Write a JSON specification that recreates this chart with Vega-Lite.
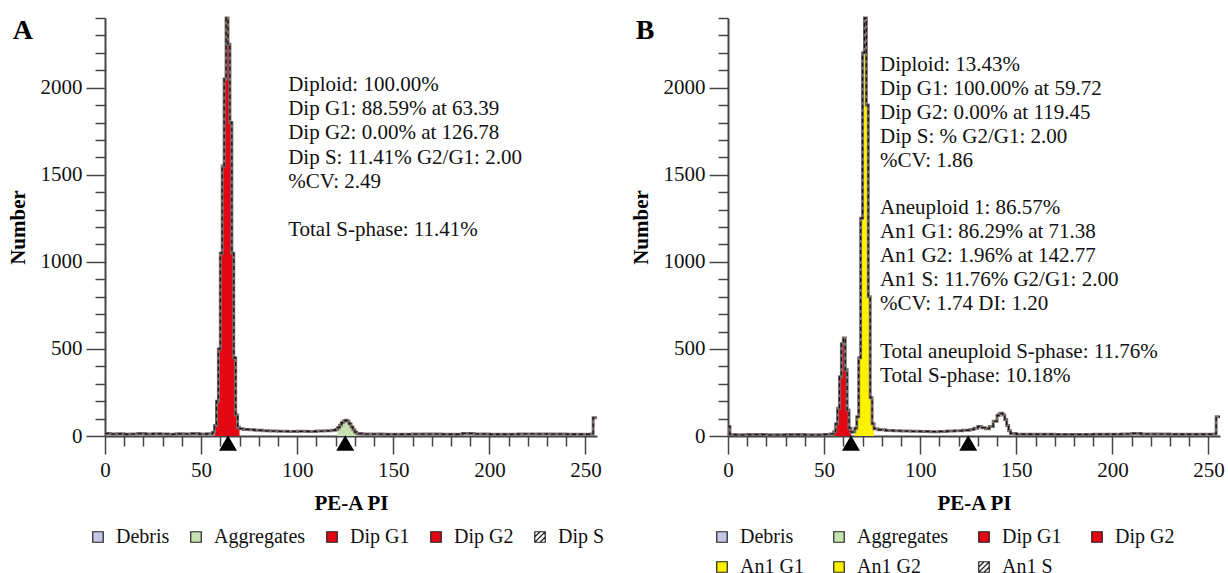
{
  "$schema": "https://vega.github.io/schema/vega-lite/v6.json",
  "padding": {"left": 7, "top": 7, "right": 5, "bottom": 5},
  "spacing": 25,
  "config": {
    "font": "Liberation Serif",
    "view": {"stroke": null},
    "axis": {
      "grid": false,
      "domainColor": "#444",
      "domainWidth": 2,
      "tickColor": "#444",
      "tickWidth": 1.5,
      "labelFont": "Liberation Serif",
      "labelFontSize": 21,
      "labelColor": "#111",
      "titleFont": "Liberation Serif",
      "titleFontSize": 21,
      "titleFontWeight": "bold",
      "titleColor": "#000",
      "labelOverlap": false,
      "labelFlush": false
    },
    "legend": {
      "orient": "none",
      "direction": "horizontal",
      "title": null,
      "labelFont": "Liberation Serif",
      "labelFontSize": 20,
      "labelColor": "#111",
      "symbolType": "square",
      "symbolSize": 110,
      "symbolStrokeColor": "#222",
      "symbolStrokeWidth": 1.2,
      "symbolOpacity": 1,
      "labelOffset": 8,
      "rowPadding": 10,
      "legendY": 509
    }
  },
  "datasets": {
    "outA": [
      {"x": 0, "n": 15}, {"x": 3, "n": 11}, {"x": 6, "n": 13}, {"x": 10, "n": 10}, {"x": 13, "n": 12}, {"x": 17, "n": 14}, {"x": 21, "n": 11}, {"x": 25, "n": 13}, {"x": 29, "n": 12}, {"x": 33, "n": 10}, {"x": 37, "n": 13}, {"x": 41, "n": 12}, {"x": 45, "n": 14}, {"x": 49, "n": 11}, {"x": 53, "n": 13}, {"x": 56, "n": 22},
      {"x": 57, "n": 60}, {"x": 58, "n": 200}, {"x": 59, "n": 500}, {"x": 60, "n": 1050}, {"x": 61, "n": 1550}, {"x": 62, "n": 2050}, {"x": 63, "n": 2400}, {"x": 64, "n": 2250}, {"x": 65, "n": 1800}, {"x": 66, "n": 1050}, {"x": 67, "n": 450}, {"x": 68, "n": 120}, {"x": 69, "n": 50},
      {"x": 70, "n": 42}, {"x": 72, "n": 38}, {"x": 75, "n": 36}, {"x": 78, "n": 33}, {"x": 82, "n": 30}, {"x": 86, "n": 28}, {"x": 90, "n": 27}, {"x": 95, "n": 26}, {"x": 100, "n": 27}, {"x": 105, "n": 26}, {"x": 110, "n": 28}, {"x": 114, "n": 30}, {"x": 118, "n": 33},
      {"x": 120, "n": 38}, {"x": 121, "n": 48}, {"x": 122, "n": 62}, {"x": 123, "n": 76}, {"x": 124, "n": 86}, {"x": 125, "n": 90}, {"x": 126, "n": 84}, {"x": 127, "n": 70}, {"x": 128, "n": 52}, {"x": 129, "n": 36}, {"x": 130, "n": 22}, {"x": 131, "n": 14},
      {"x": 134, "n": 11}, {"x": 145, "n": 10}, {"x": 160, "n": 11}, {"x": 175, "n": 10}, {"x": 186, "n": 15}, {"x": 192, "n": 12}, {"x": 200, "n": 10}, {"x": 215, "n": 12}, {"x": 230, "n": 11}, {"x": 240, "n": 10}, {"x": 253, "n": 12}, {"x": 254, "n": 105}, {"x": 256, "n": 105}
    ],
    "fillA": [
      {"comp": "Dip G1", "x": 57, "n": 60}, {"comp": "Dip G1", "x": 58, "n": 200}, {"comp": "Dip G1", "x": 59, "n": 500}, {"comp": "Dip G1", "x": 60, "n": 1050}, {"comp": "Dip G1", "x": 61, "n": 1550}, {"comp": "Dip G1", "x": 62, "n": 2050}, {"comp": "Dip G1", "x": 63, "n": 2400}, {"comp": "Dip G1", "x": 64, "n": 2250}, {"comp": "Dip G1", "x": 65, "n": 1800}, {"comp": "Dip G1", "x": 66, "n": 1050}, {"comp": "Dip G1", "x": 67, "n": 450}, {"comp": "Dip G1", "x": 68, "n": 120}, {"comp": "Dip G1", "x": 69, "n": 50}, {"comp": "Dip G1", "x": 70, "n": 0},
      {"comp": "Aggregates", "x": 121, "n": 48}, {"comp": "Aggregates", "x": 122, "n": 62}, {"comp": "Aggregates", "x": 123, "n": 76}, {"comp": "Aggregates", "x": 124, "n": 86}, {"comp": "Aggregates", "x": 125, "n": 90}, {"comp": "Aggregates", "x": 126, "n": 84}, {"comp": "Aggregates", "x": 127, "n": 70}, {"comp": "Aggregates", "x": 128, "n": 52}, {"comp": "Aggregates", "x": 129, "n": 36}, {"comp": "Aggregates", "x": 130, "n": 22}, {"comp": "Aggregates", "x": 131, "n": 0}
    ],
    "outB": [
      {"x": 0, "n": 55}, {"x": 1, "n": 8}, {"x": 4, "n": 7}, {"x": 10, "n": 8}, {"x": 20, "n": 7}, {"x": 30, "n": 8}, {"x": 40, "n": 7}, {"x": 50, "n": 9}, {"x": 53, "n": 12},
      {"x": 55, "n": 25}, {"x": 56, "n": 70}, {"x": 57, "n": 160}, {"x": 58, "n": 340}, {"x": 59, "n": 530}, {"x": 60, "n": 563}, {"x": 61, "n": 380}, {"x": 62, "n": 150}, {"x": 63, "n": 45}, {"x": 64, "n": 22}, {"x": 65, "n": 25},
      {"x": 66, "n": 45}, {"x": 67, "n": 110}, {"x": 68, "n": 450}, {"x": 69, "n": 1250}, {"x": 70, "n": 2200}, {"x": 71, "n": 2400}, {"x": 72, "n": 1900}, {"x": 73, "n": 800}, {"x": 74, "n": 220}, {"x": 75, "n": 70},
      {"x": 76, "n": 42}, {"x": 78, "n": 36}, {"x": 82, "n": 32}, {"x": 86, "n": 30}, {"x": 90, "n": 28}, {"x": 95, "n": 27}, {"x": 100, "n": 26}, {"x": 105, "n": 25}, {"x": 110, "n": 26}, {"x": 114, "n": 28}, {"x": 118, "n": 30}, {"x": 122, "n": 33}, {"x": 126, "n": 38},
      {"x": 128, "n": 45}, {"x": 130, "n": 55}, {"x": 132, "n": 48}, {"x": 134, "n": 42}, {"x": 136, "n": 55}, {"x": 138, "n": 85}, {"x": 140, "n": 118}, {"x": 141, "n": 128}, {"x": 142, "n": 130}, {"x": 143, "n": 120}, {"x": 144, "n": 95}, {"x": 145, "n": 60}, {"x": 146, "n": 30}, {"x": 147, "n": 15},
      {"x": 150, "n": 10}, {"x": 170, "n": 9}, {"x": 190, "n": 10}, {"x": 205, "n": 12}, {"x": 210, "n": 15}, {"x": 215, "n": 11}, {"x": 230, "n": 10}, {"x": 245, "n": 10}, {"x": 253, "n": 12}, {"x": 254, "n": 110}, {"x": 256, "n": 110}
    ],
    "fillB": [
      {"comp": "Dip G1", "x": 55, "n": 25}, {"comp": "Dip G1", "x": 56, "n": 70}, {"comp": "Dip G1", "x": 57, "n": 160}, {"comp": "Dip G1", "x": 58, "n": 340}, {"comp": "Dip G1", "x": 59, "n": 530}, {"comp": "Dip G1", "x": 60, "n": 563}, {"comp": "Dip G1", "x": 61, "n": 380}, {"comp": "Dip G1", "x": 62, "n": 150}, {"comp": "Dip G1", "x": 63, "n": 45}, {"comp": "Dip G1", "x": 64, "n": 0},
      {"comp": "An1 G1", "x": 66, "n": 45}, {"comp": "An1 G1", "x": 67, "n": 110}, {"comp": "An1 G1", "x": 68, "n": 450}, {"comp": "An1 G1", "x": 69, "n": 1250}, {"comp": "An1 G1", "x": 70, "n": 2200}, {"comp": "An1 G1", "x": 71, "n": 2400}, {"comp": "An1 G1", "x": 72, "n": 1900}, {"comp": "An1 G1", "x": 73, "n": 800}, {"comp": "An1 G1", "x": 74, "n": 220}, {"comp": "An1 G1", "x": 75, "n": 70}, {"comp": "An1 G1", "x": 76, "n": 0}
    ],
    "marks": [{"x": 64, "n": 0}, {"x": 125, "n": 0}],
    "panelA": [{"x": -48, "n": 2280, "t": "A"}],
    "panelB": [{"x": -48, "n": 2280, "t": "B"}],
    "textA": [
      {"x": 95.3, "n": 1981, "t": "Diploid: 100.00%"},
      {"x": 95.3, "n": 1842, "t": "Dip G1: 88.59% at 63.39"},
      {"x": 95.3, "n": 1703, "t": "Dip G2: 0.00% at 126.78"},
      {"x": 95.3, "n": 1564, "t": "Dip S: 11.41% G2/G1: 2.00"},
      {"x": 95.3, "n": 1425, "t": "%CV: 2.49"},
      {"x": 95.3, "n": 1147, "t": "Total S-phase: 11.41%"}
    ],
    "textB": [
      {"x": 79.1, "n": 2095, "t": "Diploid: 13.43%"},
      {"x": 79.1, "n": 1958, "t": "Dip G1: 100.00% at 59.72"},
      {"x": 79.1, "n": 1821, "t": "Dip G2: 0.00% at 119.45"},
      {"x": 79.1, "n": 1683, "t": "Dip S: % G2/G1: 2.00"},
      {"x": 79.1, "n": 1546, "t": "%CV: 1.86"},
      {"x": 79.1, "n": 1272, "t": "Aneuploid 1: 86.57%"},
      {"x": 79.1, "n": 1135, "t": "An1 G1: 86.29% at 71.38"},
      {"x": 79.1, "n": 997, "t": "An1 G2: 1.96% at 142.77"},
      {"x": 79.1, "n": 860, "t": "An1 S: 11.76% G2/G1: 2.00"},
      {"x": 79.1, "n": 723, "t": "%CV: 1.74 DI: 1.20"},
      {"x": 79.1, "n": 448, "t": "Total aneuploid S-phase: 11.76%"},
      {"x": 79.1, "n": 311, "t": "Total S-phase: 10.18%"}
    ]
  },
  "resolve": {"scale": {"color": "independent"}, "legend": {"color": "independent"}},
  "hconcat": [
    {
      "width": 492,
      "height": 418,
      "encoding": {
        "x": {"field": "x", "type": "quantitative", "title": "PE-A PI",
          "scale": {"domain": [0, 256], "nice": false, "zero": false},
          "axis": {"values": [0,10,20,30,40,50,60,70,80,90,100,110,120,130,140,150,160,170,180,190,200,210,220,230,240,250],
            "labelExpr": "datum.value % 50 === 0 ? datum.label : ''",
            "tickSize": {"condition": {"test": "datum.value % 50 === 0", "value": 18}, "value": 10},
            "labelPadding": 5, "titlePadding": 12}},
        "y": {"field": "n", "type": "quantitative", "title": "Number",
          "scale": {"domain": [0, 2400], "nice": false},
          "axis": {"values": [0,100,200,300,400,500,600,700,800,900,1000,1100,1200,1300,1400,1500,1600,1700,1800,1900,2000,2100,2200,2300,2400],
            "format": "d",
            "labelExpr": "datum.value % 500 === 0 ? datum.label : ''",
            "tickSize": {"condition": {"test": "datum.value % 500 === 0", "value": 19}, "value": 10},
            "labelPadding": 4, "titlePadding": 12}}
      },
      "layer": [
        {
          "data": {"name": "fillA"},
          "mark": {"type": "area", "interpolate": "step-after"},
          "encoding": {
            "color": {"field": "comp", "type": "nominal",
              "scale": {"domain": ["Debris", "Aggregates", "Dip G1", "Dip G2", "Dip S"], "range": ["#c4c6e6", "#c6e2b0", "#e30613", "#e30613", "#ffffff"]},
              "legend": {"columns": 5, "columnPadding": 16, "legendX": -17,
                "encode": {"symbols": {"update": {"shape": {"signal": "indexof(['Dip S','An1 S'], datum.value) >= 0 ? 'M-1,-1H1V1H-1Z M-1,0L0,-1 M-1,1L1,-1 M0,1L1,0' : 'square'"}, "stroke": {"value": "#222"}, "strokeWidth": {"value": 1.2}}}}}
            }
          }
        },
        {
          "data": {"name": "outA"},
          "mark": {"type": "line", "interpolate": "step-after", "color": "#7a7070", "strokeWidth": 3}
        },
        {
          "data": {"name": "outA"},
          "mark": {"type": "line", "interpolate": "step-after", "color": "#1a1212", "strokeWidth": 1.3, "strokeDash": [4, 3]}
        },
        {
          "data": {"name": "marks"},
          "mark": {"type": "point", "shape": "triangle-up", "filled": true, "color": "#000", "opacity": 1, "size": 320, "yOffset": 7, "clip": false}
        },
        {
          "data": {"name": "textA"},
          "mark": {"type": "text", "align": "left", "baseline": "alphabetic", "fontSize": 21, "font": "Liberation Serif", "color": "#111"},
          "encoding": {"text": {"field": "t"}}
        },
        {
          "data": {"name": "panelA"},
          "mark": {"type": "text", "align": "left", "baseline": "alphabetic", "fontSize": 28, "fontWeight": "bold", "font": "Liberation Serif", "color": "#000", "clip": false},
          "encoding": {"text": {"field": "t"}}
        }
      ]
    },
    {
      "width": 492,
      "height": 418,
      "encoding": {
        "x": {"field": "x", "type": "quantitative", "title": "PE-A PI",
          "scale": {"domain": [0, 256], "nice": false, "zero": false},
          "axis": {"values": [0,10,20,30,40,50,60,70,80,90,100,110,120,130,140,150,160,170,180,190,200,210,220,230,240,250],
            "labelExpr": "datum.value % 50 === 0 ? datum.label : ''",
            "tickSize": {"condition": {"test": "datum.value % 50 === 0", "value": 18}, "value": 10},
            "labelPadding": 5, "titlePadding": 12}},
        "y": {"field": "n", "type": "quantitative", "title": "Number",
          "scale": {"domain": [0, 2400], "nice": false},
          "axis": {"values": [0,100,200,300,400,500,600,700,800,900,1000,1100,1200,1300,1400,1500,1600,1700,1800,1900,2000,2100,2200,2300,2400],
            "format": "d",
            "labelExpr": "datum.value % 500 === 0 ? datum.label : ''",
            "tickSize": {"condition": {"test": "datum.value % 500 === 0", "value": 19}, "value": 10},
            "labelPadding": 4, "titlePadding": 12}}
      },
      "layer": [
        {
          "data": {"name": "fillB"},
          "mark": {"type": "area", "interpolate": "step-after"},
          "encoding": {
            "color": {"field": "comp", "type": "nominal",
              "scale": {"domain": ["Debris", "Aggregates", "Dip G1", "Dip G2", "An1 G1", "An1 G2", "An1 S"], "range": ["#c4c6e6", "#c6e2b0", "#e30613", "#e30613", "#fff200", "#fff200", "#ffffff"]},
              "legend": {"columns": 4, "columnPadding": 25, "legendX": -16,
                "encode": {"symbols": {"update": {"shape": {"signal": "indexof(['Dip S','An1 S'], datum.value) >= 0 ? 'M-1,-1H1V1H-1Z M-1,0L0,-1 M-1,1L1,-1 M0,1L1,0' : 'square'"}, "stroke": {"value": "#222"}, "strokeWidth": {"value": 1.2}}}}}
            }
          }
        },
        {
          "data": {"name": "outB"},
          "mark": {"type": "line", "interpolate": "step-after", "color": "#7a7070", "strokeWidth": 3}
        },
        {
          "data": {"name": "outB"},
          "mark": {"type": "line", "interpolate": "step-after", "color": "#1a1212", "strokeWidth": 1.3, "strokeDash": [4, 3]}
        },
        {
          "data": {"name": "marks"},
          "mark": {"type": "point", "shape": "triangle-up", "filled": true, "color": "#000", "opacity": 1, "size": 320, "yOffset": 7, "clip": false}
        },
        {
          "data": {"name": "textB"},
          "mark": {"type": "text", "align": "left", "baseline": "alphabetic", "fontSize": 21, "font": "Liberation Serif", "color": "#111"},
          "encoding": {"text": {"field": "t"}}
        },
        {
          "data": {"name": "panelB"},
          "mark": {"type": "text", "align": "left", "baseline": "alphabetic", "fontSize": 28, "fontWeight": "bold", "font": "Liberation Serif", "color": "#000", "clip": false},
          "encoding": {"text": {"field": "t"}}
        }
      ]
    }
  ]
}
